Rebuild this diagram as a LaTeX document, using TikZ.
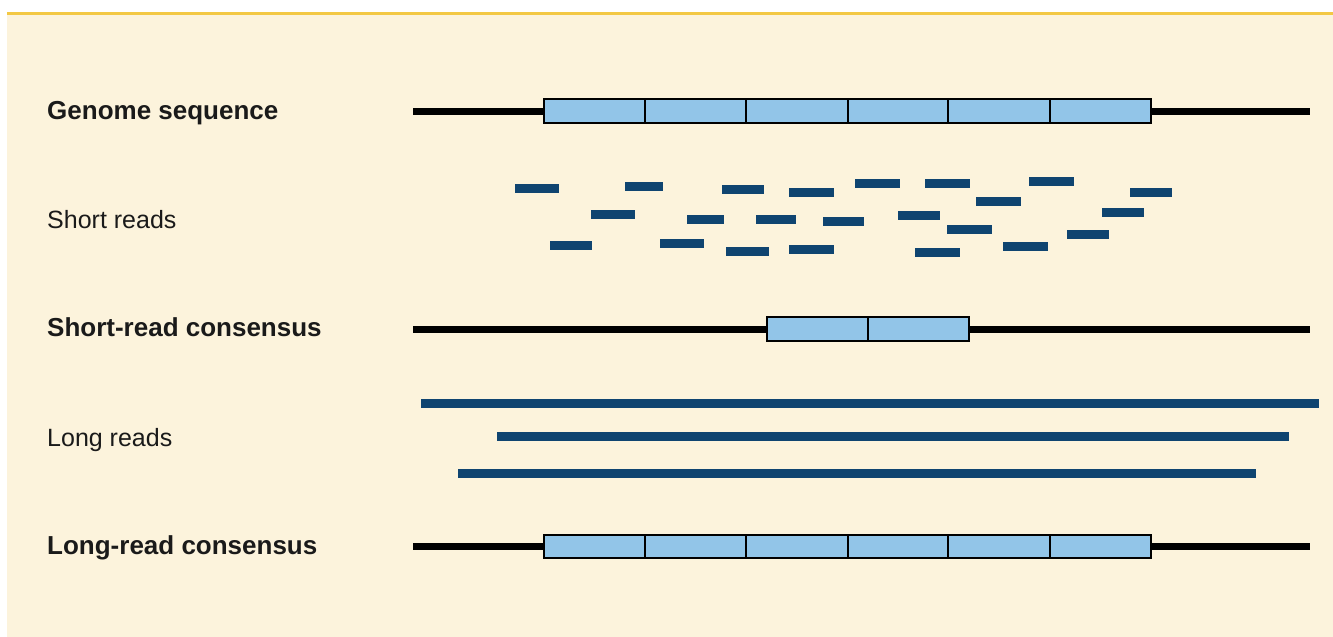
\documentclass[tikz,border=0pt]{standalone}
\usepackage{fontspec}
\setmainfont{Liberation Sans}
\definecolor{bg}{HTML}{FCF3DC}
\definecolor{topline}{HTML}{F3C844}
\definecolor{readc}{HTML}{0F4470}
\definecolor{segc}{HTML}{92C5E8}
\definecolor{txt}{HTML}{1A1A1A}
\tikzset{
  lbl/.style={anchor=base west, inner sep=0pt, text=txt, font=\fontsize{25}{30}\selectfont},
  blbl/.style={lbl, font=\fontsize{26}{30}\selectfont\bfseries},
  backbone/.style={line width=7pt, black},
  seg/.style={fill=segc, draw=black, line width=2pt}
}
\begin{document}
\begin{tikzpicture}[x=1pt,y=-1pt]
\useasboundingbox (0,0) rectangle (1333,637);
% background
\fill[bg] (7,13) rectangle (1333,637);
\draw[topline, line width=2.5pt] (7,13.5) -- (1333,13.5);

% labels
\node[blbl] (l1) at (47,119) {Genome sequence};
\node[lbl]  (l2) at (47,228) {Short reads};
\node[blbl] (l3) at (47,336) {Short-read consensus};
\node[lbl]  (l4) at (47,446) {Long reads};
\node[blbl] (l5) at (47,554) {Long-read consensus};

% genome sequence
\draw[backbone] (413,111) -- (1310,111);
\foreach \a/\b in {544/645,645/746,746/848,848/948,948/1050,1050/1151}
  \draw[seg] (\a,99) rectangle (\b,123);

% short reads
\foreach \x/\y/\w in {
  515/184/44, 625/182/38, 722/185/42, 789/188/45, 855/179/45, 925/179/45,
  1029/177/45, 1130/188/42, 976/197/45,
  591/210/44, 687/215/37, 756/215/40, 823/217/41, 898/211/42, 1102/208/42,
  947/225/45, 1067/230/42,
  550/241/42, 660/239/44, 726/247/43, 789/245/45, 915/248/45, 1003/242/45}
  \fill[readc] (\x,\y) rectangle ++(\w,9);

% short-read consensus
\draw[backbone] (413,329) -- (1310,329);
\foreach \a/\b in {767/868,868/969}
  \draw[seg] (\a,317) rectangle (\b,341);

% long reads
\fill[readc] (421,399) rectangle (1319,408);
\fill[readc] (497,432) rectangle (1289,441);
\fill[readc] (458,469) rectangle (1256,478);

% long-read consensus
\draw[backbone] (413,546) -- (1310,546);
\foreach \a/\b in {544/645,645/746,746/848,848/948,948/1050,1050/1151}
  \draw[seg] (\a,535) rectangle (\b,558);
\end{tikzpicture}
\end{document}
